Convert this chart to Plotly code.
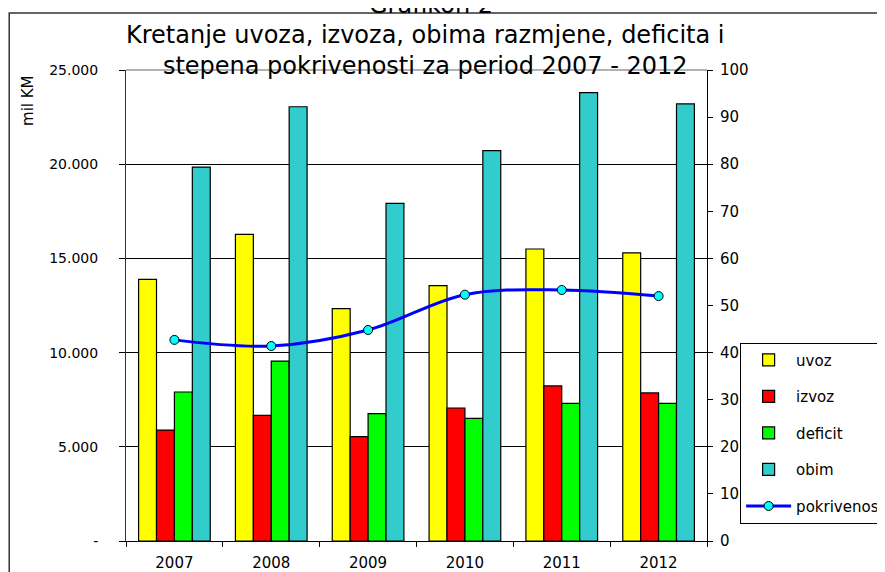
import plotly.graph_objects as go

# values (mil KM, pokrivenost in %)
godine = ["2007", "2008", "2009", "2010", "2011", "2012"]
uvoz = [13890, 16280, 12330, 13550, 15500, 15290]
izvoz = [5890, 6670, 5540, 7060, 8230, 7860]
deficit = [7910, 9550, 6760, 6510, 7310, 7310]
obim = [19850, 23050, 17925, 20720, 23800, 23200]
pokrivenost = [42.7, 41.4, 44.8, 52.3, 53.3, 52.0]

left_ticks = [0, 5000, 10000, 15000, 20000, 25000]
left_labels = ["-", "5.000", "10.000", "15.000", "20.000", "25.000"]

FONT = "DejaVu Sans"

fig = go.Figure()

bar_series = [("uvoz", uvoz, "#FFFF00"), ("izvoz", izvoz, "#FF0000"),
              ("deficit", deficit, "#00FF00"), ("obim", obim, "#33CCCC")]
for name, vals, col in bar_series:
    fig.add_trace(go.Bar(x=godine, y=vals, name=name, legendgroup=name,
                         marker=dict(color=col, line=dict(color="black", width=1.2))))

fig.add_trace(go.Scatter(x=godine, y=pokrivenost, name="pokrivenost", legendgroup="pokrivenost",
                         yaxis="y2", mode="lines+markers", line=dict(color="#0000FF", width=3, shape="spline"),
                         marker=dict(symbol="circle", size=9, color="#00FFFF", line=dict(color="black", width=1))))

# page has an 8px body margin, so margins are 8px smaller than the picture offsets
fig.update_layout(
    width=885, height=572,
    margin=dict(l=118, r=186, t=62, b=39, autoexpand=False),
    paper_bgcolor="white", plot_bgcolor="white",
    font=dict(family=FONT, size=14, color="black"),
    barmode="group", bargap=0.26, bargroupgap=0,
    showlegend=True,
    legend=dict(x=1.057, xanchor="left", y=0.421, yanchor="top",
                bordercolor="black", borderwidth=1, bgcolor="white",
                font=dict(size=15), tracegroupgap=14, traceorder="grouped",
                itemwidth=45),
    xaxis=dict(type="category", showgrid=False, showline=True, linecolor="black", linewidth=1,
               ticks="outside", ticklen=5, tickson="boundaries", tickcolor="black",
               tickfont=dict(size=15), ticklabelstandoff=8, automargin=False),
    yaxis=dict(range=[0, 25000], tickvals=left_ticks, ticktext=left_labels,
               showgrid=True, gridcolor="black", gridwidth=1, zeroline=False,
               showline=True, linecolor="#333333", linewidth=1,
               ticks="outside", ticklen=6, tickcolor="black", ticklabelstandoff=18,
               tickfont=dict(size=14), automargin=False),
    yaxis2=dict(range=[0, 100], dtick=10, overlaying="y", side="right", showgrid=False,
                zeroline=False, showline=True, linecolor="black", linewidth=1,
                ticks="outside", ticklen=5, tickcolor="black", ticklabelstandoff=4,
                tickfont=dict(size=15), automargin=False),
)

# plot area top edge
fig.add_shape(type="line", xref="paper", yref="paper", x0=0, x1=1, y0=1, y1=1,
              line=dict(color="#999999", width=1.5), layer="below")
# outer chart border (runs off the right and bottom of the picture)
fig.add_shape(type="rect", xref="paper", yref="paper", x0=-0.201, x1=1.35, y0=-0.1, y1=1.121,
              line=dict(color="#333333", width=1.5), fillcolor="rgba(0,0,0,0)")

fig.add_annotation(text="Kretanje uvoza, izvoza, obima razmjene, deficita i<br>stepena pokrivenosti za period 2007 - 2012",
                   xref="paper", yref="paper", x=0.515, y=1.042, showarrow=False,
                   font=dict(size=24, family=FONT), align="center", yanchor="middle")
fig.add_annotation(text="Grafikon 2", xref="paper", yref="paper", x=0.525, y=1.138,
                   showarrow=False, font=dict(size=24, family=FONT), yanchor="middle")
fig.add_annotation(text="mil KM", xref="paper", yref="paper", x=-0.169, y=0.936,
                   xanchor="center", yanchor="middle",
                   textangle=-90, showarrow=False, font=dict(size=15, family=FONT))

fig.write_html("out.html")
